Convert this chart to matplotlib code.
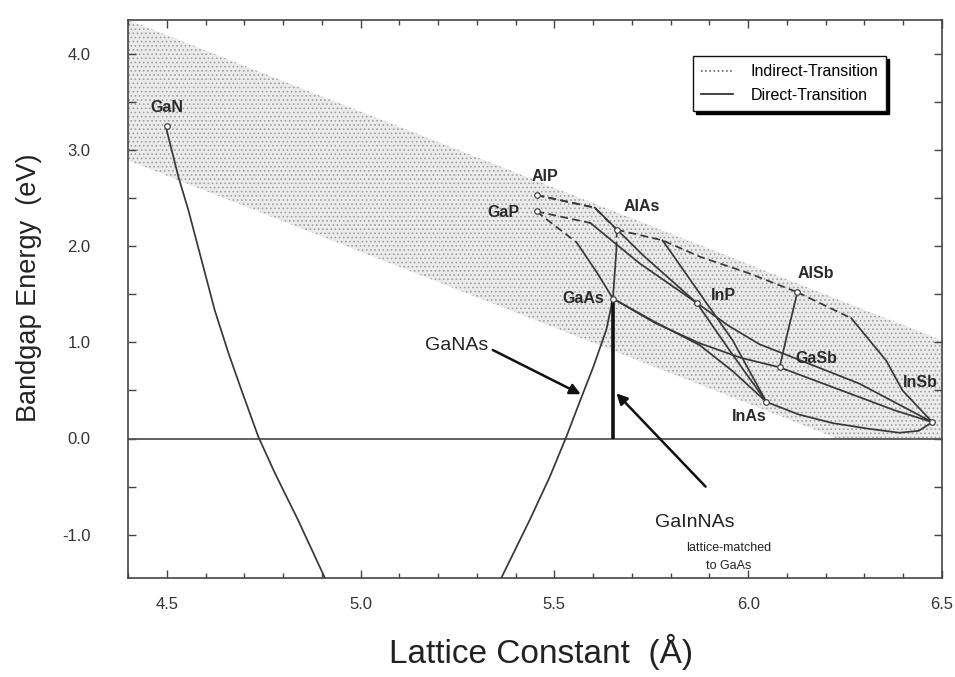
import matplotlib
matplotlib.use("Agg")
import matplotlib.pyplot as plt
from matplotlib.lines import Line2D
from matplotlib.patches import Polygon
from matplotlib.ticker import MultipleLocator, FixedLocator, FixedFormatter

plt.rcParams['font.family'] = ['Liberation Sans', 'DejaVu Sans']
plt.rcParams['hatch.linewidth'] = 0.7

# ---- axis ticks ----
x_ticks = [4.5, 5.0, 5.5, 6.0, 6.5]
x_tick_labels = ['4.5', '5.0', '5.5', '6.0', '6.5']
y_ticks = [-1.0, 0.0, 1.0, 2.0, 3.0, 4.0]
y_tick_labels = ['-1.0', '0.0', '1.0', '2.0', '3.0', '4.0']

# ---- binary compounds: lattice constant (A), bandgap (eV) ----
binary_names = ['GaN', 'AlP', 'GaP', 'AlAs', 'GaAs', 'InP', 'AlSb', 'GaSb', 'InAs', 'InSb']
binary_a = [4.50, 5.454, 5.454, 5.661, 5.651, 5.867, 6.127, 6.081, 6.047, 6.475]
binary_eg = [3.25, 2.53, 2.36, 2.17, 1.455, 1.41, 1.52, 0.74, 0.38, 0.17]
label_x = [4.50, 5.476, 5.369, 5.725, 5.574, 5.935, 6.175, 6.176, 6.002, 6.445]
label_y = [3.44, 2.72, 2.35, 2.41, 1.46, 1.49, 1.71, 0.83, 0.23, 0.58]

# ---- shaded band (upper edge, lower edge clipped at 0 eV) ----
band_x = [4.40, 6.50, 6.50, 6.23, 4.40]
band_y = [4.35, 1.02, 0.00, 0.00, 2.89]

# ---- GaNAs bowing curve (two branches leaving the frame) ----
ganas_left_x = [4.497, 4.530, 4.556, 4.590, 4.624, 4.659, 4.693, 4.736, 4.779, 4.839, 4.908]
ganas_left_y = [3.25, 2.72, 2.37, 1.85, 1.33, 0.89, 0.50, 0.02, -0.36, -0.85, -1.45]
ganas_right_x = [5.363, 5.436, 5.488, 5.531, 5.570, 5.600, 5.634, 5.651]
ganas_right_y = [-1.45, -0.85, -0.40, 0.02, 0.43, 0.74, 1.13, 1.455]

# ---- GaInNAs lattice matched to GaAs ----
gainnas_x = [5.651, 5.651]
gainnas_y = [0.0, 1.455]

# ---- ternary alloys: indirect-gap (dashed) segments ----
alp_alas_ind_x = [5.454, 5.604, 5.661]
alp_alas_ind_y = [2.53, 2.40, 2.17]
alp_inp_ind_x = [5.454, 5.604]
alp_inp_ind_y = [2.53, 2.40]
gap_inp_ind_x = [5.454, 5.593]
gap_inp_ind_y = [2.36, 2.24]
gap_gaas_ind_x = [5.454, 5.505, 5.557]
gap_gaas_ind_y = [2.36, 2.20, 2.04]
alas_gaas_ind_x = [5.661, 5.660]
alas_gaas_ind_y = [2.17, 1.96]
alas_alsb_ind_x = [5.661, 5.779, 5.875, 6.000, 6.127]
alas_alsb_ind_y = [2.17, 2.06, 1.89, 1.72, 1.52]
alsb_insb_ind_x = [6.127, 6.266]
alsb_insb_ind_y = [1.52, 1.25]

# ---- ternary alloys: direct-gap (solid) segments ----
alp_inp_dir_x = [5.604, 5.730, 5.867]
alp_inp_dir_y = [2.40, 1.90, 1.41]
gap_inp_dir_x = [5.593, 5.720, 5.867]
gap_inp_dir_y = [2.24, 1.82, 1.41]
gap_gaas_dir_x = [5.557, 5.609, 5.651]
gap_gaas_dir_y = [2.04, 1.73, 1.455]
alas_gaas_dir_x = [5.660, 5.651]
alas_gaas_dir_y = [1.96, 1.455]
alas_inas_dir_x = [5.779, 5.960, 6.047]
alas_inas_dir_y = [2.06, 1.02, 0.38]
inp_inas_x = [5.867, 5.960, 6.047]
inp_inas_y = [1.41, 0.87, 0.38]
gaas_inas_x = [5.651, 5.760, 5.875, 5.960, 6.047]
gaas_inas_y = [1.455, 1.21, 0.97, 0.70, 0.38]
gaas_gasb_x = [5.651, 5.760, 5.875, 5.980, 6.081]
gaas_gasb_y = [1.455, 1.20, 0.99, 0.84, 0.74]
alsb_gasb_x = [6.127, 6.101, 6.081]
alsb_gasb_y = [1.52, 1.09, 0.74]
alsb_insb_dir_x = [6.266, 6.356, 6.398, 6.475]
alsb_insb_dir_y = [1.25, 0.81, 0.50, 0.17]
gasb_insb_x = [6.081, 6.287, 6.380, 6.475]
gasb_insb_y = [0.74, 0.43, 0.29, 0.17]
inp_insb_x = [5.867, 5.950, 6.029, 6.130, 6.287, 6.475]
inp_insb_y = [1.41, 1.17, 0.98, 0.82, 0.57, 0.17]
inas_insb_x = [6.047, 6.130, 6.218, 6.313, 6.390, 6.440, 6.475]
inas_insb_y = [0.38, 0.25, 0.16, 0.10, 0.06, 0.08, 0.17]

# ------------------------------------------------------------------
fig = plt.figure(figsize=(9.55, 6.77), dpi=100)
ax = fig.add_axes([128 / 955, 1 - 578 / 677, 814 / 955, 558 / 677])
ax.set_xlim(4.4, 6.5)
ax.set_ylim(-1.45, 4.35)

band = Polygon(list(zip(band_x, band_y)), closed=True, facecolor='#ebebeb',
               edgecolor='#a0a0a0', hatch='....', linewidth=0, zorder=1)
ax.add_patch(band)

ax.axhline(0.0, color='#555555', lw=1.3, zorder=2)

line_c = '#383838'
solid_kw = dict(color=line_c, lw=1.25, zorder=3, solid_joinstyle='round')
dash_kw = dict(color=line_c, lw=1.25, zorder=3, dashes=(4.5, 2.5))

ax.plot(ganas_left_x, ganas_left_y, **solid_kw)
ax.plot(ganas_right_x, ganas_right_y, **solid_kw)

for xs, ys in [(alp_alas_ind_x, alp_alas_ind_y), (alp_inp_ind_x, alp_inp_ind_y),
               (gap_inp_ind_x, gap_inp_ind_y), (gap_gaas_ind_x, gap_gaas_ind_y),
               (alas_gaas_ind_x, alas_gaas_ind_y), (alas_alsb_ind_x, alas_alsb_ind_y),
               (alsb_insb_ind_x, alsb_insb_ind_y)]:
    ax.plot(xs, ys, **dash_kw)

for xs, ys in [(alp_inp_dir_x, alp_inp_dir_y), (gap_inp_dir_x, gap_inp_dir_y),
               (gap_gaas_dir_x, gap_gaas_dir_y), (alas_gaas_dir_x, alas_gaas_dir_y),
               (alas_inas_dir_x, alas_inas_dir_y), (inp_inas_x, inp_inas_y),
               (gaas_inas_x, gaas_inas_y), (gaas_gasb_x, gaas_gasb_y),
               (alsb_gasb_x, alsb_gasb_y), (alsb_insb_dir_x, alsb_insb_dir_y),
               (gasb_insb_x, gasb_insb_y), (inp_insb_x, inp_insb_y),
               (inas_insb_x, inas_insb_y)]:
    ax.plot(xs, ys, **solid_kw)

ax.plot(gainnas_x, gainnas_y, color='#111111', lw=2.6, zorder=4, solid_capstyle='butt')

ax.plot(binary_a, binary_eg, linestyle='none', marker='o', ms=4, mfc='white',
        mec='#444444', mew=0.9, zorder=5)

for name, lx, ly in zip(binary_names, label_x, label_y):
    ax.text(lx, ly, name, ha='center', va='center', fontsize=11.5,
            fontweight='bold', color='#2a2a2a', zorder=6)

# annotations
arrow_kw = dict(arrowstyle='-|>', color='#111111', lw=1.8, mutation_scale=16,
                shrinkA=0, shrinkB=0)
ax.annotate('', xy=(5.568, 0.46), xytext=(5.341, 0.92), arrowprops=arrow_kw, zorder=6)
ax.text(5.249, 0.965, 'GaNAs', ha='center', va='center', fontsize=14, color='#222222')
ax.annotate('', xy=(5.660, 0.47), xytext=(5.89, -0.50), arrowprops=arrow_kw, zorder=6)
ax.text(5.862, -0.87, 'GaInNAs', ha='center', va='center', fontsize=14, color='#222222')
ax.text(5.949, -1.14, 'lattice-matched', ha='center', va='center', fontsize=9,
        color='#222222')
ax.text(5.949, -1.33, 'to GaAs', ha='center', va='center', fontsize=9,
        color='#222222')

# ticks
ax.xaxis.set_major_locator(FixedLocator(x_ticks))
ax.xaxis.set_major_formatter(FixedFormatter(x_tick_labels))
ax.xaxis.set_minor_locator(MultipleLocator(0.1))
ax.yaxis.set_major_locator(FixedLocator(y_ticks))
ax.yaxis.set_major_formatter(FixedFormatter(y_tick_labels))
ax.yaxis.set_minor_locator(MultipleLocator(0.5))
ax.tick_params(axis='both', which='both', direction='in', top=True, right=True,
               color='#444444', width=1.0)
ax.tick_params(axis='x', which='major', length=6, pad=14, labelsize=12, labelcolor='#333333')
ax.tick_params(axis='x', which='minor', length=3.5)
ax.tick_params(axis='y', which='major', length=6, pad=27, labelsize=12, labelcolor='#333333')
ax.tick_params(axis='y', which='minor', length=6)
for sp in ax.spines.values():
    sp.set_color('#444444')
    sp.set_linewidth(1.2)

fig.text(29 / 955, 1 - 288 / 677, 'Bandgap Energy  (eV)', rotation=90, ha='center',
         va='center', fontsize=19.5, color='#222222')
fig.text(541 / 955, 1 - 652 / 677, 'Lattice Constant  (\u00c5)', ha='center',
         va='center', fontsize=24, color='#222222')

handles = [Line2D([], [], color='#666666', lw=1.2, ls=(0, (1, 1.5))),
           Line2D([], [], color='#222222', lw=1.2)]
leg = ax.legend(handles, ['Indirect-Transition', 'Direct-Transition'],
                loc='upper left', bbox_to_anchor=(0.694, 0.935), fontsize=11.5,
                frameon=True, fancybox=False, edgecolor='#111111',
                shadow={'color': 'black', 'alpha': 1.0}, handlelength=2.0,
                borderpad=0.5, labelspacing=0.55, handletextpad=1.1,
                borderaxespad=0)
leg.get_frame().set_linewidth(1.0)
leg.set_zorder(10)

fig.savefig('out.png', dpi=100)
